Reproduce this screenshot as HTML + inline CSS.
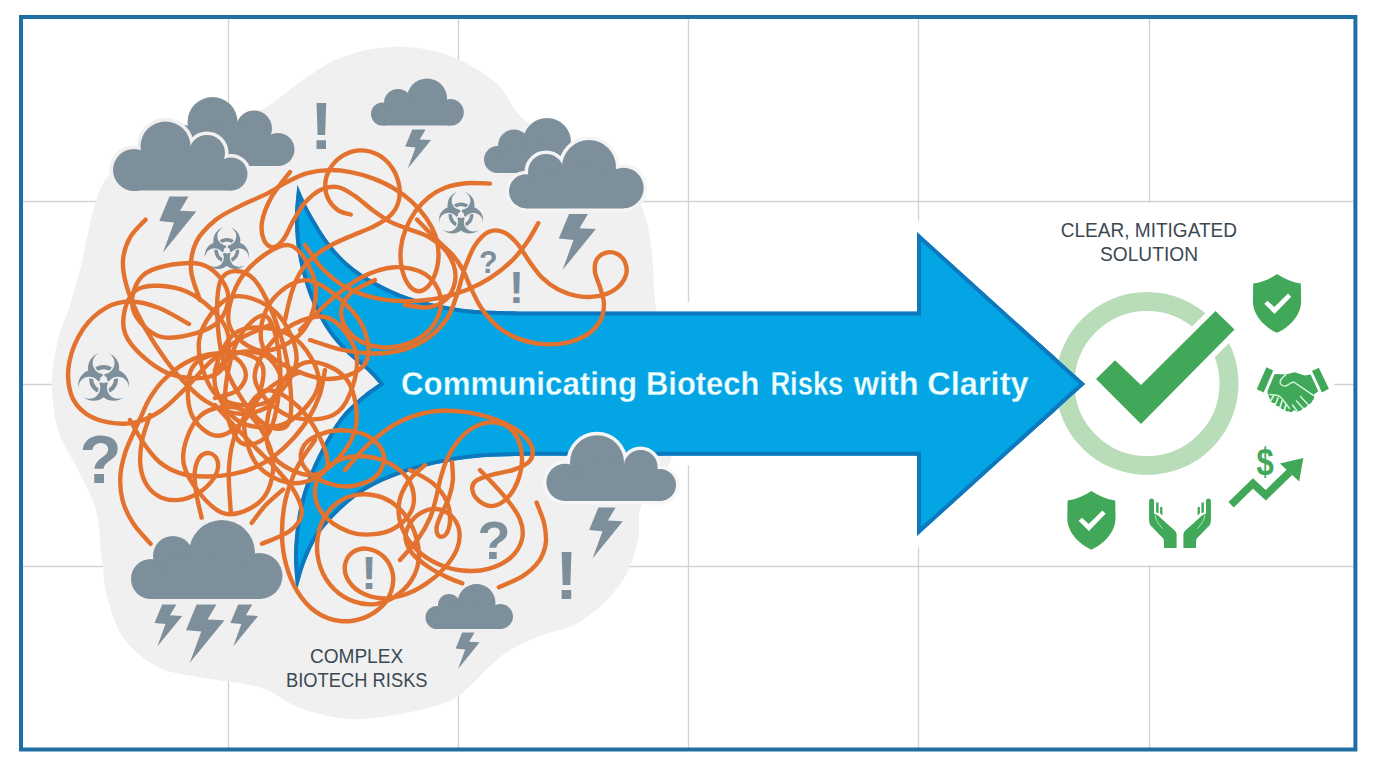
<!DOCTYPE html>
<html><head><meta charset="utf-8"><title>Communicating Biotech Risks with Clarity</title>
<style>html,body{margin:0;padding:0;background:#fff}svg{display:block}</style></head>
<body><svg width="1376" height="768" viewBox="0 0 1376 768">
<defs><clipPath id="arrowclip"><path d="M297.4 185C299.5 189.5 304.4 202.0 310.0 212.0C315.6 222.0 323.5 235.4 331.0 244.9C338.5 254.4 345.9 261.8 354.9 268.8C363.9 275.8 374.8 281.8 384.8 286.8C394.8 291.8 404.2 295.5 414.7 298.7C425.2 301.9 436.8 304.3 447.7 306.2C458.6 308.1 466.3 309.4 480.0 310.3C493.7 311.2 521.7 311.4 530.0 311.6L917 311.6L917 232L1085 384L917 536L917 455.8L530 455.8C521.7 456.1 495.7 456.2 480.0 457.6C464.3 459.0 449.1 461.4 435.7 464.3C422.3 467.2 411.3 470.6 399.8 474.8C388.3 479.1 376.8 483.8 366.8 489.8C356.8 495.8 347.9 503.2 339.9 510.7C331.9 518.2 324.6 526.2 318.9 534.7C313.2 543.2 309.2 552.5 305.5 562.0C301.8 571.5 298.0 587.0 296.5 592.0C296.1 585.8 293.8 568.0 294.0 555.0C294.2 542.0 295.8 526.1 298.0 513.7C300.2 501.3 303.0 491.8 307.0 480.8C311.0 469.8 316.4 458.3 321.9 447.8C327.4 437.3 333.4 426.4 339.9 417.9C346.4 409.4 354.3 402.7 360.8 397.0C367.3 391.3 376.0 385.8 379.0 383.5C377.0 381.4 372.3 375.8 366.8 370.6C361.3 365.5 352.4 359.1 345.9 352.6C339.4 346.1 333.5 339.7 328.0 331.7C322.5 323.7 317.2 314.2 313.0 304.7C308.8 295.2 305.2 284.8 302.5 274.8C299.8 264.9 297.8 255.0 296.5 245.0C295.2 235.0 294.9 225.0 295.0 215.0C295.1 205.0 297.0 190.0 297.4 185.0Z"/></clipPath><mask id="biom" maskUnits="userSpaceOnUse" x="-30" y="-30" width="60" height="60"><g fill="#fff"><circle cx="0.00" cy="-11.00" r="15"/><circle cx="-9.53" cy="5.50" r="15"/><circle cx="9.53" cy="5.50" r="15"/></g><g fill="#000"><circle cx="0.00" cy="-15.90" r="10.5"/><circle cx="-13.77" cy="7.95" r="10.5"/><circle cx="13.77" cy="7.95" r="10.5"/><circle r="3.4"/></g><g stroke="#000" stroke-width="1.8"><line x1="0" y1="0" x2="0.00" y2="-8.00"/><line x1="0" y1="0" x2="-6.93" y2="4.00"/><line x1="0" y1="0" x2="6.93" y2="4.00"/></g><g stroke="#000" stroke-width="10"><line x1="0.00" y1="-17.00" x2="0.00" y2="-30.00"/><line x1="-14.72" y1="8.50" x2="-25.98" y2="15.00"/><line x1="14.72" y1="8.50" x2="25.98" y2="15.00"/></g></mask><clipPath id="bioc"><circle cx="0.00" cy="-15.90" r="9.1"/><circle cx="-13.77" cy="7.95" r="9.1"/><circle cx="13.77" cy="7.95" r="9.1"/></clipPath><g id="bio" fill="#7e8f9c"><g mask="url(#biom)"><rect x="-30" y="-30" width="60" height="60"/></g><g clip-path="url(#bioc)"><circle r="11.9" fill="none" stroke="#7e8f9c" stroke-width="3.9"/></g></g><clipPath id="tipclip"><rect x="1040" y="330" width="60" height="110"/></clipPath></defs>
<rect width="1376" height="768" fill="#fff"/>
<g stroke="#d2d2d2" stroke-width="1.3"><line x1="228.5" y1="17" x2="228.5" y2="750"/><line x1="458.5" y1="17" x2="458.5" y2="750"/><line x1="688.5" y1="17" x2="688.5" y2="750"/><line x1="918.5" y1="17" x2="918.5" y2="750"/><line x1="1149.5" y1="17" x2="1149.5" y2="750"/><line x1="20" y1="201.5" x2="1356" y2="201.5"/><line x1="20" y1="384.5" x2="1356" y2="384.5"/><line x1="20" y1="566.5" x2="1356" y2="566.5"/></g>
<path d="M297.4 185C299.5 189.5 304.4 202.0 310.0 212.0C315.6 222.0 323.5 235.4 331.0 244.9C338.5 254.4 345.9 261.8 354.9 268.8C363.9 275.8 374.8 281.8 384.8 286.8C394.8 291.8 404.2 295.5 414.7 298.7C425.2 301.9 436.8 304.3 447.7 306.2C458.6 308.1 466.3 309.4 480.0 310.3C493.7 311.2 521.7 311.4 530.0 311.6L917 311.6L917 232L1085 384L917 536L917 455.8L530 455.8C521.7 456.1 495.7 456.2 480.0 457.6C464.3 459.0 449.1 461.4 435.7 464.3C422.3 467.2 411.3 470.6 399.8 474.8C388.3 479.1 376.8 483.8 366.8 489.8C356.8 495.8 347.9 503.2 339.9 510.7C331.9 518.2 324.6 526.2 318.9 534.7C313.2 543.2 309.2 552.5 305.5 562.0C301.8 571.5 298.0 587.0 296.5 592.0C296.1 585.8 293.8 568.0 294.0 555.0C294.2 542.0 295.8 526.1 298.0 513.7C300.2 501.3 303.0 491.8 307.0 480.8C311.0 469.8 316.4 458.3 321.9 447.8C327.4 437.3 333.4 426.4 339.9 417.9C346.4 409.4 354.3 402.7 360.8 397.0C367.3 391.3 376.0 385.8 379.0 383.5C377.0 381.4 372.3 375.8 366.8 370.6C361.3 365.5 352.4 359.1 345.9 352.6C339.4 346.1 333.5 339.7 328.0 331.7C322.5 323.7 317.2 314.2 313.0 304.7C308.8 295.2 305.2 284.8 302.5 274.8C299.8 264.9 297.8 255.0 296.5 245.0C295.2 235.0 294.9 225.0 295.0 215.0C295.1 205.0 297.0 190.0 297.4 185.0Z" fill="#fff" stroke="#fff" stroke-width="19" stroke-linejoin="miter"/>
<rect x="1086" y="203" width="248" height="362" fill="#fff"/>
<path d="M52.0 384.0C52.0 369.0 55.0 353.2 58.0 340.0C61.0 326.8 66.0 318.0 70.0 305.0C74.0 292.0 78.3 277.0 82.0 262.0C85.7 247.0 88.3 228.3 92.0 215.0C95.7 201.7 98.0 191.5 104.0 182.0C110.0 172.5 115.3 165.3 128.0 158.0C140.7 150.7 162.2 144.3 180.0 138.0C197.8 131.7 220.3 125.3 235.0 120.0C249.7 114.7 257.2 112.3 268.0 106.0C278.8 99.7 288.0 90.0 300.0 82.0C312.0 74.0 325.0 63.8 340.0 58.0C355.0 52.2 372.5 47.7 390.0 47.0C407.5 46.3 427.5 48.2 445.0 54.0C462.5 59.8 482.2 71.3 495.0 82.0C507.8 92.7 511.2 108.3 522.0 118.0C532.8 127.7 547.0 132.7 560.0 140.0C573.0 147.3 588.3 154.3 600.0 162.0C611.7 169.7 622.5 177.0 630.0 186.0C637.5 195.0 641.3 205.0 645.0 216.0C648.7 227.0 650.3 238.0 652.0 252.0C653.7 266.0 652.8 278.7 655.0 300.0C657.2 321.3 662.2 354.2 665.0 380.0C667.8 405.8 675.8 434.3 672.0 455.0C668.2 475.7 647.7 489.8 642.0 504.0C636.3 518.2 640.5 528.5 638.0 540.0C635.5 551.5 632.5 562.7 627.0 573.0C621.5 583.3 613.5 593.5 605.0 602.0C596.5 610.5 586.8 618.3 576.0 624.0C565.2 629.7 551.0 631.7 540.0 636.0C529.0 640.3 518.5 644.8 510.0 650.0C501.5 655.2 495.3 661.3 489.0 667.0C482.7 672.7 478.5 678.3 472.0 684.0C465.5 689.7 462.0 696.0 450.0 701.0C438.0 706.0 416.7 711.0 400.0 714.0C383.3 717.0 366.7 720.0 350.0 719.0C333.3 718.0 314.7 713.2 300.0 708.0C285.3 702.8 277.8 693.0 262.0 688.0C246.2 683.0 222.0 681.3 205.0 678.0C188.0 674.7 173.3 674.3 160.0 668.0C146.7 661.7 133.7 651.3 125.0 640.0C116.3 628.7 111.8 613.3 108.0 600.0C104.2 586.7 104.0 575.0 102.0 560.0C100.0 545.0 100.0 525.0 96.0 510.0C92.0 495.0 84.3 483.3 78.0 470.0C71.7 456.7 62.3 444.3 58.0 430.0C53.7 415.7 52.0 399.0 52.0 384.0Z" fill="#f0f0f0"/>
<path d="M297.4 185C299.5 189.5 304.4 202.0 310.0 212.0C315.6 222.0 323.5 235.4 331.0 244.9C338.5 254.4 345.9 261.8 354.9 268.8C363.9 275.8 374.8 281.8 384.8 286.8C394.8 291.8 404.2 295.5 414.7 298.7C425.2 301.9 436.8 304.3 447.7 306.2C458.6 308.1 466.3 309.4 480.0 310.3C493.7 311.2 521.7 311.4 530.0 311.6L917 311.6L917 232L1085 384L917 536L917 455.8L530 455.8C521.7 456.1 495.7 456.2 480.0 457.6C464.3 459.0 449.1 461.4 435.7 464.3C422.3 467.2 411.3 470.6 399.8 474.8C388.3 479.1 376.8 483.8 366.8 489.8C356.8 495.8 347.9 503.2 339.9 510.7C331.9 518.2 324.6 526.2 318.9 534.7C313.2 543.2 309.2 552.5 305.5 562.0C301.8 571.5 298.0 587.0 296.5 592.0C296.1 585.8 293.8 568.0 294.0 555.0C294.2 542.0 295.8 526.1 298.0 513.7C300.2 501.3 303.0 491.8 307.0 480.8C311.0 469.8 316.4 458.3 321.9 447.8C327.4 437.3 333.4 426.4 339.9 417.9C346.4 409.4 354.3 402.7 360.8 397.0C367.3 391.3 376.0 385.8 379.0 383.5C377.0 381.4 372.3 375.8 366.8 370.6C361.3 365.5 352.4 359.1 345.9 352.6C339.4 346.1 333.5 339.7 328.0 331.7C322.5 323.7 317.2 314.2 313.0 304.7C308.8 295.2 305.2 284.8 302.5 274.8C299.8 264.9 297.8 255.0 296.5 245.0C295.2 235.0 294.9 225.0 295.0 215.0C295.1 205.0 297.0 190.0 297.4 185.0Z" fill="#03a5e4" stroke="#0d78bd" stroke-width="8" stroke-linejoin="miter" clip-path="url(#arrowclip)"/>
<g fill="none" stroke="#e3722e" stroke-width="4.4" stroke-linecap="round" stroke-linejoin="round"><path d="M145.5 219.7C142.9 222.7 133.6 230.9 129.9 237.7C126.1 244.4 123.6 252.1 123.0 260.1C122.4 268.1 124.1 276.9 126.5 285.8C128.9 294.6 132.7 303.5 137.2 313.0C141.8 322.5 147.3 332.5 154.0 342.8C160.7 353.0 168.5 364.7 177.2 374.5C186.0 384.3 196.0 395.0 206.5 401.5C217.0 408.0 229.4 413.2 240.0 413.8C250.6 414.3 263.1 410.6 270.0 405.0C276.9 399.4 281.9 388.1 281.2 380.0C280.6 371.9 273.3 360.8 266.2 356.2C259.2 351.7 247.3 350.2 238.8 352.5C230.2 354.8 219.0 367.1 215.0 370.0"/><path d="M189.0 324.0C183.9 321.3 168.2 311.5 158.5 307.8C148.8 304.0 139.3 301.5 130.6 301.5C121.8 301.5 113.8 303.2 106.0 307.8C98.2 312.2 89.6 319.5 83.5 328.5C77.4 337.5 71.5 350.8 69.4 361.6C67.3 372.5 68.0 385.1 70.8 393.7C73.5 402.3 79.4 408.7 85.7 413.5C92.0 418.2 100.4 420.8 108.5 422.3C116.7 423.8 125.8 424.4 134.3 422.6C142.9 420.8 151.5 417.1 159.9 411.4C168.4 405.8 176.4 397.1 185.0 388.8C193.6 380.4 202.1 369.6 211.2 361.2C220.4 352.9 230.2 344.8 240.0 338.8C249.8 332.7 265.0 327.3 270.0 325.0"/><path d="M350.7 214.5C348.6 213.8 341.9 212.7 338.2 210.3C334.6 207.9 331.0 204.1 328.8 200.0C326.6 195.8 325.1 190.3 325.2 185.3C325.3 180.3 326.6 174.6 329.4 169.8C332.1 165.0 336.5 159.8 341.5 156.5C346.5 153.3 353.4 150.7 359.5 150.4C365.6 150.2 372.8 151.8 378.3 154.9C383.8 157.9 389.2 163.3 392.7 168.7C396.2 174.0 398.5 181.1 399.4 187.0C400.2 192.9 399.6 199.1 397.7 204.2C395.9 209.2 392.6 213.6 388.3 217.4C384.0 221.3 377.8 224.3 371.7 227.4C365.6 230.4 358.3 232.8 351.8 235.7C345.3 238.5 338.5 241.2 332.4 244.5C326.3 247.8 320.4 251.2 315.2 255.5C310.1 259.7 305.7 264.0 301.8 270.0C297.8 276.0 294.5 283.4 291.8 291.8C289.0 300.1 286.1 315.3 285.0 320.0"/><path d="M200.0 300.0C198.5 295.0 191.6 279.7 191.0 270.0C190.4 260.3 192.2 250.3 196.2 242.0C200.3 233.7 208.1 226.1 215.5 220.0C222.9 213.9 232.6 209.9 240.9 205.6C249.3 201.3 258.0 198.3 265.5 194.4C273.0 190.6 279.1 186.1 286.0 182.6C292.8 179.1 299.3 175.5 306.4 173.4C313.5 171.3 321.1 170.3 328.5 170.1C335.9 169.9 343.3 170.7 350.7 172.1C358.1 173.5 365.6 175.7 372.8 178.4C380.0 181.1 387.3 184.4 393.8 188.4C400.3 192.3 406.6 196.9 412.0 201.9C417.5 206.9 422.5 212.8 426.5 218.5C430.4 224.2 433.6 230.2 435.6 236.2C437.6 242.2 438.6 248.4 438.6 254.5C438.6 260.6 437.5 267.4 435.6 272.8C433.8 278.2 430.6 283.9 427.6 286.9C424.5 289.9 420.4 291.7 417.0 291.0C413.7 290.4 409.9 287.0 407.4 283.0C404.8 279.1 402.7 272.9 401.6 267.2C400.5 261.5 400.1 255.2 400.8 249.0C401.4 242.7 403.0 235.9 405.5 229.6C407.9 223.3 411.6 216.7 415.4 211.3C419.3 206.0 423.7 201.2 428.7 197.2C433.6 193.3 438.9 190.0 445.1 187.7C451.3 185.3 458.4 183.9 465.9 183.2C473.4 182.6 486.0 183.5 490.0 183.6"/><path d="M290.0 172.0C286.9 176.2 276.2 188.7 271.6 196.9C267.0 205.2 263.4 214.1 262.1 221.3C260.8 228.5 262.2 235.8 264.0 240.1C265.8 244.5 269.9 247.5 273.2 247.3C276.5 247.1 280.3 243.5 283.7 239.0C287.1 234.5 289.9 226.4 293.6 220.2C297.3 213.9 301.2 206.7 305.9 201.6C310.5 196.5 316.0 191.8 321.4 189.4C326.8 187.1 332.3 186.1 337.9 187.2C343.6 188.4 349.2 192.3 355.1 196.1C360.9 200.0 366.9 206.0 372.8 210.2C378.7 214.5 384.5 218.7 390.5 221.9C396.5 225.0 402.4 226.5 408.7 229.1C415.1 231.6 422.2 233.0 428.6 236.9C434.9 240.8 442.5 245.9 447.0 252.2C451.5 258.6 455.2 267.6 455.5 275.0C455.8 282.4 452.9 291.4 448.5 296.8C444.1 302.1 436.5 305.9 429.2 307.2C422.0 308.6 409.0 305.4 405.0 305.0"/><path d="M538.3 223.2C536.4 226.3 531.6 235.7 527.2 242.0C522.7 248.3 517.8 255.0 511.7 260.9C505.6 266.8 498.2 272.8 490.7 277.6C483.2 282.5 475.0 286.6 466.6 290.0C458.1 293.3 449.6 296.0 440.1 297.9C430.5 299.7 419.8 301.1 409.2 301.1C398.6 301.2 386.7 300.5 376.2 298.2C365.8 296.0 355.2 292.4 346.2 287.5C337.3 282.6 329.4 275.8 322.5 268.8C315.6 261.7 307.9 249.0 305.0 245.0"/><path d="M417.0 219.5C420.2 222.8 430.4 233.4 436.3 239.2C442.2 245.1 447.9 249.6 452.4 254.7C456.8 259.7 459.7 264.0 462.8 269.6C465.9 275.2 467.6 281.6 470.9 288.1C474.1 294.7 477.5 302.7 482.0 309.1C486.6 315.6 491.9 322.1 498.1 327.1C504.3 332.0 511.6 336.0 519.1 338.9C526.7 341.7 535.2 343.5 543.3 344.1C551.3 344.7 560.0 344.2 567.4 342.6C574.8 340.9 582.3 337.9 587.8 334.2C593.3 330.5 597.8 325.4 600.5 320.3C603.2 315.2 604.0 309.2 603.9 303.6C603.8 298.0 601.4 292.2 599.9 286.9C598.4 281.6 595.5 276.5 595.0 272.0C594.4 267.5 594.7 263.1 596.5 259.9C598.2 256.8 602.0 253.9 605.4 252.8C608.8 251.8 613.6 252.1 616.9 253.8C620.2 255.4 623.8 259.0 625.2 262.8C626.7 266.5 627.2 272.0 625.5 276.4C623.9 280.8 620.0 285.9 615.3 289.2C610.7 292.6 603.9 295.1 597.7 296.2C591.5 297.4 584.4 297.1 577.9 296.1C571.4 295.0 564.7 292.7 558.7 289.7C552.7 286.6 547.0 282.4 542.0 277.6C537.1 272.8 533.1 266.6 529.0 260.9C524.9 255.2 521.5 248.4 517.3 243.6C513.1 238.8 508.4 234.1 503.7 232.2C499.0 230.2 493.6 229.7 488.9 231.8C484.1 234.0 479.3 239.0 475.2 245.1C471.2 251.2 467.7 260.3 464.7 268.4C461.7 276.4 460.2 285.5 457.3 293.7C454.4 301.9 452.1 310.5 447.4 317.8C442.7 325.1 436.0 332.3 428.9 337.6C421.7 342.9 413.5 346.7 404.7 349.4C395.9 352.0 386.5 353.4 376.2 353.5C365.8 353.5 353.5 352.1 342.5 349.9C331.5 347.7 315.4 341.6 310.0 340.0"/><path d="M462.3 583.3C459.6 582.2 451.7 579.5 446.1 576.7C440.4 574.0 434.0 570.7 428.5 567.0C422.9 563.2 416.6 558.6 412.8 554.0C409.0 549.3 406.2 544.0 405.6 539.0C405.1 534.0 407.0 528.4 409.6 524.0C412.2 519.6 416.9 515.1 421.3 512.6C425.8 510.1 431.4 508.6 436.3 509.0C441.2 509.4 446.8 511.7 450.6 515.2C454.4 518.7 458.0 524.3 459.1 529.9C460.1 535.5 459.5 542.5 457.1 548.8C454.7 555.0 450.0 561.8 444.8 567.6C439.5 573.5 432.7 579.4 425.9 583.9C419.0 588.5 411.3 592.6 403.7 595.0C396.1 597.4 387.6 598.8 380.2 598.2C372.9 597.7 365.2 595.1 359.7 591.7C354.2 588.4 349.4 582.8 347.0 578.0C344.6 573.2 344.3 567.4 345.4 563.0C346.6 558.7 349.9 554.1 353.6 551.7C357.4 549.3 362.9 547.9 367.9 548.8C373.0 549.6 379.8 552.8 383.9 556.9C388.0 561.0 391.5 567.7 392.7 573.5C393.9 579.3 392.9 586.2 391.0 591.7C389.1 597.3 386.0 602.4 381.5 606.7C377.0 611.0 370.9 615.4 364.0 617.8C357.1 620.2 348.0 622.0 340.0 621.0C332.0 620.1 322.9 616.8 315.9 611.9C308.8 607.0 302.4 599.4 297.5 591.7C292.6 584.0 289.0 575.0 286.4 565.7C283.8 556.3 282.2 546.5 282.0 535.8C281.8 525.0 282.8 512.4 285.2 501.0C287.8 489.6 292.0 477.7 297.0 467.5C302.0 457.3 312.0 444.6 315.0 440.0"/><path d="M317.1 543.5C316.7 551.8 318.2 561.2 321.0 568.8C323.8 576.4 328.6 583.6 334.0 589.0C339.4 594.4 346.8 598.9 353.6 601.4C360.5 603.9 368.2 604.9 375.1 604.1C382.0 603.3 389.2 600.4 395.3 596.4C401.4 592.3 407.7 586.1 411.6 580.0C415.5 574.0 417.9 566.7 418.7 559.8C419.6 553.0 418.4 545.7 416.7 539.0C414.9 532.2 411.8 525.1 408.1 519.4C404.5 513.6 399.6 508.3 394.6 504.4C389.5 500.5 383.7 497.6 377.6 496.0C371.6 494.4 364.6 493.7 358.1 494.7C351.6 495.7 344.3 497.9 338.6 501.9C332.8 505.9 327.2 511.9 323.6 518.8C320.1 525.7 317.6 535.1 317.1 543.5Z"/><path d="M536.6 502.5C537.8 506.0 542.6 516.5 544.1 523.4C545.6 530.2 546.6 537.2 545.7 543.6C544.8 549.9 542.5 556.3 538.5 561.8C534.6 567.2 528.9 572.2 522.3 576.4C515.6 580.6 502.7 585.4 498.8 587.2"/><path d="M480.0 470.0C484.2 474.5 498.4 488.9 505.0 497.0C511.6 505.1 516.9 511.8 519.8 518.8C522.6 525.7 523.6 532.5 522.1 539.0C520.6 545.4 516.4 552.5 510.8 557.5C505.2 562.5 496.5 566.7 488.4 568.9C480.3 571.1 470.8 571.4 462.3 570.5C453.9 569.7 445.2 567.2 437.6 563.7C430.0 560.2 422.7 555.5 416.8 549.8C411.0 544.0 405.6 536.7 402.6 529.2C399.6 521.8 397.9 512.8 398.8 505.0C399.6 497.2 403.1 489.2 407.5 482.5C411.9 475.8 422.1 467.9 425.0 465.0"/><path d="M345.0 470.0C348.6 466.1 358.9 453.4 366.4 446.3C373.9 439.2 381.9 432.5 390.0 427.3C398.0 422.2 406.2 418.3 414.8 415.6C423.4 412.8 432.5 411.3 441.7 410.8C450.9 410.4 460.7 411.1 470.0 412.7C479.3 414.3 489.1 417.0 497.4 420.3C505.8 423.5 514.4 427.8 520.2 432.3C525.9 436.9 530.4 442.6 532.0 447.4C533.5 452.2 532.6 457.4 529.6 461.1C526.6 464.8 520.3 467.4 514.0 469.6C507.7 471.9 498.2 473.0 491.8 474.9C485.4 476.7 479.0 478.4 475.8 481.0C472.5 483.6 471.8 487.0 472.4 490.4C473.0 493.8 476.1 498.7 479.5 501.3C482.9 503.9 488.2 506.5 492.7 506.0C497.3 505.5 502.7 502.6 506.9 498.5C511.1 494.3 515.3 487.5 517.8 480.9C520.3 474.4 522.0 466.2 522.0 459.2C522.0 452.2 520.5 444.5 517.8 438.9C515.1 433.3 510.8 428.5 506.0 425.7C501.2 422.9 494.8 421.8 489.0 422.4C483.1 422.9 476.4 425.5 471.0 429.0C465.6 432.5 460.5 437.9 456.4 443.1C452.3 448.4 449.1 454.6 446.4 460.6C443.8 466.7 442.0 473.0 440.3 479.3C438.5 485.6 437.7 492.1 435.9 498.5C434.2 505.0 433.0 511.3 430.0 518.0C427.0 524.7 423.0 532.0 418.0 539.0C413.0 546.0 403.0 556.5 400.0 560.0"/><path d="M410.0 470.0C413.8 472.2 426.9 478.1 433.0 483.4C439.1 488.6 443.9 495.0 446.7 501.3C449.6 507.6 450.2 515.6 450.0 521.1C449.8 526.7 447.6 532.0 445.8 534.5C443.9 536.9 440.4 537.3 438.9 536.1C437.4 534.9 436.2 531.0 436.6 527.3C437.1 523.6 439.5 518.5 441.5 513.6C443.5 508.8 446.9 503.8 448.8 498.2C450.7 492.7 452.3 486.5 452.8 480.5C453.4 474.5 452.1 465.1 452.0 462.0"/><path d="M150.6 543.8C147.7 540.4 137.8 530.7 133.2 523.4C128.5 516.1 124.6 508.1 122.5 500.0C120.4 491.9 119.9 483.1 120.4 475.0C120.9 466.9 123.3 458.8 125.6 451.5C128.0 444.2 131.7 437.2 134.4 431.1C137.1 425.0 139.4 420.0 141.9 414.8C144.3 409.5 145.5 405.3 149.0 399.6C152.5 394.0 156.7 386.9 162.9 380.8C169.1 374.6 177.8 367.0 186.2 362.5C194.7 358.0 205.3 354.4 213.8 353.8C222.2 353.1 231.4 355.2 236.8 358.8C242.1 362.3 246.0 369.7 246.0 375.0C246.0 380.3 241.9 386.9 236.8 390.8C231.6 394.6 218.6 396.8 215.0 398.0"/><path d="M150.0 415.0C148.6 419.5 143.3 433.2 141.8 441.8C140.2 450.4 139.7 459.3 140.6 466.7C141.5 474.0 144.0 480.8 147.4 485.9C150.9 491.1 155.8 495.0 161.0 497.4C166.3 499.7 172.8 500.5 178.8 499.9C184.7 499.4 191.2 497.0 196.4 494.1C201.7 491.3 206.9 486.8 210.5 482.6C214.0 478.5 216.8 473.3 217.7 469.1C218.6 465.0 217.7 460.4 216.1 457.7C214.5 455.0 210.7 452.9 207.9 453.0C205.0 453.1 201.2 454.9 199.0 458.2C196.8 461.5 195.2 466.9 194.7 472.8C194.3 478.8 195.2 486.5 196.4 494.0C197.5 501.5 200.8 513.8 201.7 517.7"/><path d="M130.0 420.0C132.2 423.8 138.6 436.0 143.5 443.0C148.4 450.0 153.4 457.0 159.4 462.0C165.5 467.0 172.2 470.7 179.8 473.1C187.5 475.6 196.6 476.3 205.3 476.5C214.1 476.7 224.0 475.8 232.4 474.2C240.8 472.6 248.6 470.3 255.8 467.1C263.0 463.9 269.3 459.9 275.6 455.1C281.8 450.3 287.6 444.7 293.2 438.5C298.7 432.3 304.3 425.3 308.8 418.0C313.2 410.7 317.0 402.7 319.8 394.7C322.5 386.7 324.1 374.1 325.0 370.0"/><path d="M230.8 512.5C230.5 505.9 228.4 484.6 228.8 472.9C229.1 461.2 230.4 451.2 232.8 442.2C235.2 433.2 239.1 425.9 243.1 418.8C247.2 411.6 251.8 405.1 257.4 399.2C262.9 393.2 269.3 387.5 276.4 383.0C283.6 378.5 296.1 373.8 300.0 372.0"/><path d="M215.0 405.0C218.4 408.6 228.4 419.6 235.2 426.8C242.0 433.9 248.9 440.8 255.8 447.9C262.7 455.0 270.2 461.9 276.7 469.3C283.2 476.7 290.8 484.7 294.9 492.2C299.1 499.8 302.6 508.0 301.6 514.5C300.6 521.1 295.6 526.7 289.0 531.6C282.4 536.5 266.5 541.7 262.0 543.8"/><path d="M251.7 523.0C254.0 520.0 260.5 510.7 265.7 505.1C270.9 499.6 280.1 492.2 283.0 489.6"/><path d="M322.8 471.8C328.3 465.5 338.3 459.2 348.2 457.2C358.2 455.3 372.4 456.2 382.5 460.0C392.6 463.8 403.8 472.2 408.8 480.2C413.8 488.3 415.4 500.0 412.5 508.2C409.6 516.5 400.5 525.8 391.2 530.0C382.0 534.2 367.4 535.6 356.8 533.8C346.1 531.9 334.2 525.2 327.2 518.8C320.3 512.3 315.8 502.8 315.0 495.0C314.2 487.2 317.2 478.0 322.8 471.8Z"/><path d="M307.8 441.2C313.5 436.3 325.5 431.4 335.5 430.5C345.5 429.6 359.7 431.8 367.8 436.0C375.8 440.2 382.9 449.0 384.0 456.0C385.1 463.0 380.7 472.7 374.2 477.8C367.8 482.8 355.2 486.5 345.5 486.5C335.8 486.5 323.7 482.4 316.2 478.0C308.8 473.6 302.4 466.1 301.0 460.0C299.6 453.9 302.0 446.2 307.8 441.2Z"/><path d="M300.0 330.0C304.9 325.2 319.5 309.9 329.5 301.2C339.5 292.6 349.4 283.7 360.2 278.0C371.1 272.3 383.7 267.9 394.5 267.2C405.3 266.6 417.6 269.4 425.2 274.2C432.9 279.1 438.8 288.2 440.5 296.2C442.2 304.3 439.9 314.9 435.2 322.5C430.6 330.1 421.5 337.6 412.5 341.8C403.5 345.9 391.0 348.1 381.2 347.2C371.5 346.4 360.4 342.1 353.8 336.8C347.1 331.4 341.9 322.2 341.2 315.0C340.6 307.8 344.4 299.6 350.0 293.8C355.6 287.9 370.8 282.3 375.0 280.0"/><path d="M237.5 340.6C244.4 326.6 259.4 311.9 266.5 316.3C273.7 320.7 279.6 347.9 280.2 366.9C280.8 386.0 276.6 418.0 270.0 430.7C263.4 443.3 248.3 447.7 240.8 442.6C233.3 437.4 225.7 416.8 225.2 399.8C224.6 382.8 230.6 354.5 237.5 340.6Z"/><path d="M218.3 435.8C208.3 436.2 195.3 424.4 191.0 412.9C186.7 401.4 186.2 376.9 192.8 366.7C199.3 356.6 218.5 352.0 230.2 351.9C241.8 351.7 259.0 356.1 262.5 366.0C266.1 375.8 258.9 399.4 251.5 411.1C244.2 422.7 228.4 435.5 218.3 435.8Z"/><path d="M237.8 331.4C250.7 324.2 278.2 327.7 291.7 336.2C305.2 344.7 319.6 367.8 318.8 382.3C317.9 396.7 300.0 416.3 286.7 422.8C273.4 429.4 251.0 428.7 238.9 421.4C226.9 414.1 214.6 394.2 214.4 379.2C214.2 364.2 224.9 338.5 237.8 331.4Z"/><path d="M199.1 340.3C201.3 323.9 217.8 302.0 230.6 297.4C243.5 292.8 265.1 302.0 276.1 312.6C287.0 323.2 298.0 346.1 296.4 361.0C294.8 375.9 279.9 396.4 266.7 402.2C253.5 408.0 228.6 406.3 217.3 396.0C206.0 385.7 196.8 356.7 199.1 340.3Z"/><path d="M284.6 349.8C290.4 373.5 293.6 410.8 289.0 422.2C284.5 433.6 268.3 428.8 257.3 418.3C246.3 407.7 229.0 381.8 222.9 358.9C216.7 336.0 215.1 294.2 220.4 281.0C225.6 267.8 243.5 268.2 254.2 279.6C264.9 291.1 278.8 326.0 284.6 349.8Z"/><path d="M287.7 415.5C273.8 409.8 255.4 391.4 254.7 377.3C253.9 363.2 270.7 340.9 283.0 331.0C295.2 321.1 315.8 313.4 328.1 317.9C340.4 322.3 355.1 342.0 356.8 357.6C358.5 373.2 349.8 402.0 338.3 411.6C326.8 421.3 301.6 421.2 287.7 415.5Z"/><path d="M272.4 400.1C278.1 385.0 292.4 366.1 304.8 362.7C317.2 359.3 338.6 368.2 346.9 379.8C355.2 391.4 359.6 416.4 354.5 432.1C349.4 447.9 330.5 471.0 316.5 474.4C302.5 477.9 277.9 465.4 270.5 453.0C263.2 440.6 266.7 415.1 272.4 400.1Z"/><path d="M293.8 483.3C281.9 483.1 264.7 474.8 256.5 463.9C248.3 453.0 242.5 430.4 244.5 418.1C246.5 405.8 258.2 390.8 268.5 390.3C278.8 389.8 296.4 402.9 306.2 415.4C316.1 427.8 329.5 453.7 327.5 465.0C325.4 476.4 305.6 483.5 293.8 483.3Z"/><path d="M221.5 512.5C208.4 506.8 187.4 480.8 183.9 464.7C180.4 448.5 190.5 424.6 200.5 415.6C210.5 406.5 231.9 404.0 243.8 410.5C255.8 417.1 269.0 440.2 272.1 454.9C275.3 469.6 271.1 489.1 262.7 498.7C254.3 508.3 234.6 518.2 221.5 512.5Z"/><path d="M167.6 373.1C152.1 366.6 130.4 347.6 125.2 333.7C120.0 319.9 126.0 297.0 136.3 290.0C146.6 283.0 171.9 285.2 187.0 291.8C202.0 298.4 221.5 316.3 226.7 329.8C231.9 343.3 228.0 365.8 218.1 373.0C208.3 380.2 183.1 379.7 167.6 373.1Z"/><path d="M214.3 325.1C203.4 332.6 175.9 339.9 162.3 337.1C148.7 334.3 135.5 319.1 132.8 308.4C130.1 297.7 134.9 280.3 146.2 272.9C157.5 265.5 187.0 260.9 200.5 264.1C214.1 267.3 225.4 282.2 227.7 292.4C230.0 302.5 225.2 317.7 214.3 325.1Z"/><path d="M261.8 350.8C249.5 349.6 232.1 336.6 229.0 323.9C225.9 311.2 233.4 287.9 243.4 274.7C253.3 261.6 276.6 243.4 288.6 245.1C300.6 246.7 313.2 270.3 315.5 284.6C317.9 298.9 311.8 320.0 302.8 331.1C293.8 342.1 274.1 352.0 261.8 350.8Z"/><path d="M365.5 363.1C359.6 373.0 339.3 380.6 322.6 378.6C305.9 376.5 274.1 362.9 265.2 350.6C256.3 338.3 261.9 316.4 269.1 304.7C276.4 293.0 294.0 278.1 308.9 280.4C323.8 282.8 349.0 305.1 358.5 318.9C367.9 332.7 371.5 353.1 365.5 363.1Z"/></g>
<g fill="#7e8f9c"><circle cx="181" cy="145.5" r="21"/><circle cx="212.5" cy="122" r="25"/><circle cx="254" cy="128.5" r="18"/><circle cx="278" cy="149.5" r="16.5"/><polygon points="181.0,166.0 181.0,145.5 212.5,122.0 254.0,128.5 278.0,149.5 278.0,166.0"/></g>
<g fill="#f0f0f0" stroke="#f0f0f0" stroke-width="7" stroke-linejoin="round"><circle cx="134" cy="170" r="21"/><circle cx="165.5" cy="146.5" r="25"/><circle cx="207" cy="153" r="18"/><circle cx="231" cy="174" r="16.5"/><polygon points="134.0,190.5 134.0,170.0 165.5,146.5 207.0,153.0 231.0,174.0 231.0,190.5"/></g><g fill="#7e8f9c"><circle cx="134" cy="170" r="21"/><circle cx="165.5" cy="146.5" r="25"/><circle cx="207" cy="153" r="18"/><circle cx="231" cy="174" r="16.5"/><polygon points="134.0,190.5 134.0,170.0 165.5,146.5 207.0,153.0 231.0,174.0 231.0,190.5"/></g>
<g fill="#7e8f9c"><circle cx="382.5" cy="114" r="11.5"/><circle cx="398" cy="103" r="14"/><circle cx="427" cy="98.5" r="20"/><circle cx="450.5" cy="112.3" r="13.3"/><polygon points="382.5,125.6 382.5,114.0 398.0,103.0 427.0,98.5 450.5,112.3 450.5,125.6"/></g>
<g fill="#7e8f9c"><circle cx="497.5" cy="159.5" r="13.5"/><circle cx="514" cy="145.5" r="16"/><circle cx="547" cy="142" r="24"/><polygon points="497.5,173.0 497.5,159.5 514.0,145.5 547.0,142.0 547.0,173.0"/></g>
<g fill="#f4f4f4" stroke="#f4f4f4" stroke-width="7" stroke-linejoin="round"><circle cx="526" cy="191.2" r="17"/><circle cx="546" cy="172" r="18"/><circle cx="589" cy="167" r="27"/><circle cx="623.4" cy="188" r="20.3"/><polygon points="526.0,208.4 526.0,191.2 546.0,172.0 589.0,167.0 623.4,188.0 623.4,208.4"/></g><g fill="#7e8f9c"><circle cx="526" cy="191.2" r="17"/><circle cx="546" cy="172" r="18"/><circle cx="589" cy="167" r="27"/><circle cx="623.4" cy="188" r="20.3"/><polygon points="526.0,208.4 526.0,191.2 546.0,172.0 589.0,167.0 623.4,188.0 623.4,208.4"/></g>
<g fill="#7e8f9c"><circle cx="151" cy="579" r="20"/><circle cx="173" cy="556" r="20"/><circle cx="222" cy="553" r="33"/><circle cx="259.5" cy="576" r="23"/><polygon points="151.0,599.0 151.0,579.0 173.0,556.0 222.0,553.0 259.5,576.0 259.5,599.0"/></g>
<g fill="#f6f6f6" stroke="#f6f6f6" stroke-width="7" stroke-linejoin="round"><circle cx="565" cy="482.4" r="18.6"/><circle cx="597" cy="462.3" r="27"/><circle cx="640.6" cy="467" r="17"/><circle cx="660" cy="485" r="16"/><polygon points="565.0,501.0 565.0,482.4 597.0,462.3 640.6,467.0 660.0,485.0 660.0,501.0"/></g><g fill="#7e8f9c"><circle cx="565" cy="482.4" r="18.6"/><circle cx="597" cy="462.3" r="27"/><circle cx="640.6" cy="467" r="17"/><circle cx="660" cy="485" r="16"/><polygon points="565.0,501.0 565.0,482.4 597.0,462.3 640.6,467.0 660.0,485.0 660.0,501.0"/></g>
<g fill="#7e8f9c"><circle cx="437" cy="617.5" r="11.5"/><circle cx="449" cy="605" r="11"/><circle cx="476.5" cy="603" r="19"/><circle cx="500.5" cy="616.5" r="12.5"/><polygon points="437.0,629.0 437.0,617.5 449.0,605.0 476.5,603.0 500.5,616.5 500.5,629.0"/></g>
<g fill="#7e8f9c"><polygon points="169.5,196.4 188.5,196.4 180.0,210.7 196.3,211.5 163.0,252.4 174.0,222.4 159.3,221.0"/><polygon points="412.3,129.4 425.6,129.4 419.7,139.4 431.1,140.0 407.8,168.6 415.5,147.6 405.2,146.6"/><polygon points="569.0,214.0 588.0,214.0 579.5,228.3 595.8,229.1 562.5,270.0 573.5,240.0 558.8,238.6"/><polygon points="162.2,604.6 176.4,604.6 170.0,615.3 182.2,615.9 157.3,646.6 165.5,624.1 154.5,623.1"/><polygon points="196.6,604.6 216.4,604.6 207.5,619.5 224.5,620.3 189.8,662.8 201.3,631.6 186.0,630.2"/><polygon points="238.1,604.6 252.3,604.6 245.9,615.3 258.1,615.9 233.2,646.6 241.4,624.1 230.4,623.1"/><polygon points="598.4,507.5 615.7,507.5 607.9,520.5 622.8,521.2 592.5,558.5 602.5,531.2 589.1,529.9"/><polygon points="462.2,632.5 474.6,632.5 469.1,641.8 479.7,642.3 458.0,668.9 465.2,649.4 455.6,648.5"/></g>
<use href="#bio" transform="translate(226.8 250.5) scale(0.9)"/><use href="#bio" transform="translate(461 215) scale(0.9)"/><use href="#bio" transform="translate(103.6 379.5) scale(1.04)"/>
<g fill="#7e8f9c" font-family="'Liberation Sans', sans-serif" font-weight="bold" text-anchor="middle">
<text x="321.4" y="149" font-size="67">!</text>
<text x="516.5" y="303" font-size="45">!</text>
<text x="566.6" y="599" font-size="68">!</text>
<text x="369" y="589" font-size="47">!</text>
<text x="100.5" y="482.6" font-size="69">?</text>
<text x="488.4" y="272.5" font-size="30.5">?</text>
<text x="494" y="558.6" font-size="54">?</text>
</g>
<g font-family="'Liberation Sans', sans-serif" fill="#3c4953" font-size="19.6" lengthAdjust="spacingAndGlyphs">
<text x="309.9" y="662.9" textLength="93.3" lengthAdjust="spacingAndGlyphs">COMPLEX</text><text x="286" y="687.1" textLength="141.6" lengthAdjust="spacingAndGlyphs">BIOTECH RISKS</text>
<text x="1060.8" y="236.9" textLength="176.2" lengthAdjust="spacingAndGlyphs">CLEAR, MITIGATED</text><text x="1100" y="261.2" textLength="98" lengthAdjust="spacingAndGlyphs">SOLUTION</text>
</g>
<text y="395.3" font-family="'Liberation Sans', sans-serif" font-weight="bold" font-size="34" fill="#f0ffff" stroke="#03a5e4" stroke-width="0.3" lengthAdjust="spacingAndGlyphs"><tspan x="401" textLength="236" lengthAdjust="spacingAndGlyphs">Communicating</tspan> <tspan x="646" textLength="113.3" lengthAdjust="spacingAndGlyphs">Biotech</tspan> <tspan x="770.4" textLength="72.9" lengthAdjust="spacingAndGlyphs">Risks</tspan> <tspan x="853.7" textLength="65" lengthAdjust="spacingAndGlyphs">with</tspan> <tspan x="927.3" textLength="101.3" lengthAdjust="spacingAndGlyphs">Clarity</tspan></text>
<circle cx="1147" cy="383.5" r="82" fill="none" stroke="#b9dcb9" stroke-width="19"/>
<g clip-path="url(#tipclip)"><path d="M297.4 185C299.5 189.5 304.4 202.0 310.0 212.0C315.6 222.0 323.5 235.4 331.0 244.9C338.5 254.4 345.9 261.8 354.9 268.8C363.9 275.8 374.8 281.8 384.8 286.8C394.8 291.8 404.2 295.5 414.7 298.7C425.2 301.9 436.8 304.3 447.7 306.2C458.6 308.1 466.3 309.4 480.0 310.3C493.7 311.2 521.7 311.4 530.0 311.6L917 311.6L917 232L1085 384L917 536L917 455.8L530 455.8C521.7 456.1 495.7 456.2 480.0 457.6C464.3 459.0 449.1 461.4 435.7 464.3C422.3 467.2 411.3 470.6 399.8 474.8C388.3 479.1 376.8 483.8 366.8 489.8C356.8 495.8 347.9 503.2 339.9 510.7C331.9 518.2 324.6 526.2 318.9 534.7C313.2 543.2 309.2 552.5 305.5 562.0C301.8 571.5 298.0 587.0 296.5 592.0C296.1 585.8 293.8 568.0 294.0 555.0C294.2 542.0 295.8 526.1 298.0 513.7C300.2 501.3 303.0 491.8 307.0 480.8C311.0 469.8 316.4 458.3 321.9 447.8C327.4 437.3 333.4 426.4 339.9 417.9C346.4 409.4 354.3 402.7 360.8 397.0C367.3 391.3 376.0 385.8 379.0 383.5C377.0 381.4 372.3 375.8 366.8 370.6C361.3 365.5 352.4 359.1 345.9 352.6C339.4 346.1 333.5 339.7 328.0 331.7C322.5 323.7 317.2 314.2 313.0 304.7C308.8 295.2 305.2 284.8 302.5 274.8C299.8 264.9 297.8 255.0 296.5 245.0C295.2 235.0 294.9 225.0 295.0 215.0C295.1 205.0 297.0 190.0 297.4 185.0Z" fill="#03a5e4" stroke="#0d78bd" stroke-width="8" stroke-linejoin="miter" clip-path="url(#arrowclip)"/></g>
<polygon points="1096,379 1115,360.3 1141,385 1215.5,311 1234.5,329.5 1141,424" fill="#fff" stroke="#fff" stroke-width="11" stroke-linejoin="miter"/>
<polygon points="1096,379 1115,360.3 1141,385 1215.5,311 1234.5,329.5 1141,424" fill="#40a858"/>
<g transform="translate(1277 303.4)"><path d="M0 -29.4C-7 -24.5 -15 -21.2 -23.8 -19.8L-24.1 -2C-24.1 12 -12 24 0 29.4C12 24 24.1 12 24.1 -2L23.8 -19.8C15 -21.2 7 -24.5 0 -29.4Z" fill="#40a858"/><polygon points="-12.7,0.4 -9.5,-2.6 -2.7,3.6 11,-9.8 14.2,-6.6 -2.5,10.7" fill="#fff"/></g>
<g transform="translate(1091.4 520.3)"><path d="M0 -29.4C-7 -24.5 -15 -21.2 -23.8 -19.8L-24.1 -2C-24.1 12 -12 24 0 29.4C12 24 24.1 12 24.1 -2L23.8 -19.8C15 -21.2 7 -24.5 0 -29.4Z" fill="#40a858"/><polygon points="-12.7,0.4 -9.5,-2.6 -2.7,3.6 11,-9.8 14.2,-6.6 -2.5,10.7" fill="#fff"/></g>
<g transform="translate(1180 0)"><path d="M-30.9 500.8Q-30.9 498.4 -28.4 498.4Q-26 498.4 -26 500.8L-26 513.5L-21.8 515.4L-14.6 522.2L-5.3 530.6Q-3.4 532 -3.4 534.5L-3.4 548L-15.9 548L-16.3 539.1L-29.4 525.6Q-30.9 523.5 -30.9 520.5ZM-23.9 503.4Q-23.9 502.2 -22.6 502.2Q-21.4 502.2 -21.4 503.4L-21.4 513.3L-23.9 512.6ZM-19.9 507.9Q-19.9 506.8 -18.7 506.8Q-17.6 506.8 -17.6 507.9L-17.6 515.4L-19.9 513.6Z" fill="#40a858"/><path d="M-24.6 515.6Q-25.4 519.5 -17.6 528.6" fill="none" stroke="#b4efc0" stroke-width="0.9" stroke-linecap="round"/></g><g transform="translate(1180 0) scale(-1 1)"><path d="M-30.9 500.8Q-30.9 498.4 -28.4 498.4Q-26 498.4 -26 500.8L-26 513.5L-21.8 515.4L-14.6 522.2L-5.3 530.6Q-3.4 532 -3.4 534.5L-3.4 548L-15.9 548L-16.3 539.1L-29.4 525.6Q-30.9 523.5 -30.9 520.5ZM-23.9 503.4Q-23.9 502.2 -22.6 502.2Q-21.4 502.2 -21.4 503.4L-21.4 513.3L-23.9 512.6ZM-19.9 507.9Q-19.9 506.8 -18.7 506.8Q-17.6 506.8 -17.6 507.9L-17.6 515.4L-19.9 513.6Z" fill="#40a858"/><path d="M-24.6 515.6Q-25.4 519.5 -17.6 528.6" fill="none" stroke="#b4efc0" stroke-width="0.9" stroke-linecap="round"/></g>
<polyline points="1231.1,504.8 1253,483.4 1265.8,495.2 1289.5,472.2" fill="none" stroke="#40a858" stroke-width="7.6" stroke-linejoin="miter"/>
<polygon points="1279.9,463.6 1303.3,458.1 1299.2,481.4" fill="#40a858"/>
<text x="1256.6" y="474.6" font-family="'Liberation Sans', sans-serif" font-weight="bold" font-size="38" fill="#40a858" textLength="17.2" lengthAdjust="spacingAndGlyphs">$</text>
<g fill="#40a858">
<polygon points="1266.4,367.3 1273.2,370.5 1263.7,392.4 1256.8,389.2"/>
<polygon points="1312,371 1318.8,367.8 1328.9,388.7 1322,392.4"/>
<path d="M1274.6 374.1L1285.5 374.6L1294.7 372.3L1304.7 375.5L1310.6 374.6L1318.3 391.2L1313.3 395.1Q1315.3 398.5 1312.5 400.5Q1311.5 404 1308 404.5Q1306.5 408 1303 408Q1301 411.5 1296.5 411.5L1294 410Q1292 413.5 1289 411.3Q1286 412.3 1284.6 409.5Q1281 410 1279.7 406.5Q1276 407 1274.8 403Q1271 403.5 1269.6 398.8L1267.3 391.5Z"/>
</g>
<g fill="none" stroke="#d4f7dc" stroke-width="1.4" stroke-linecap="round" stroke-linejoin="round">
<path d="M1285.8 374.8Q1279.5 379 1280.2 383.3Q1283 387.5 1287 385.5Q1291 382.5 1293.8 382L1313 395.2"/>
<path d="M1270 394.5L1276.5 395.2Q1281 396.5 1283.5 400.5L1289.5 408.5"/>
<path d="M1273.5 396L1270.5 401M1278 398L1275.3 404.5M1282 401L1280 407.5M1286 404.5L1284.5 409.7" stroke-width="1.8"/>
<path d="M1300.5 396.5L1307.5 404M1296.5 401L1302.8 407.8M1292.5 405L1296.8 410.5"/>
</g>
<rect x="21" y="17" width="1334.4" height="732.5" fill="none" stroke="#1f6fa3" stroke-width="4"/>
</svg></body></html>
